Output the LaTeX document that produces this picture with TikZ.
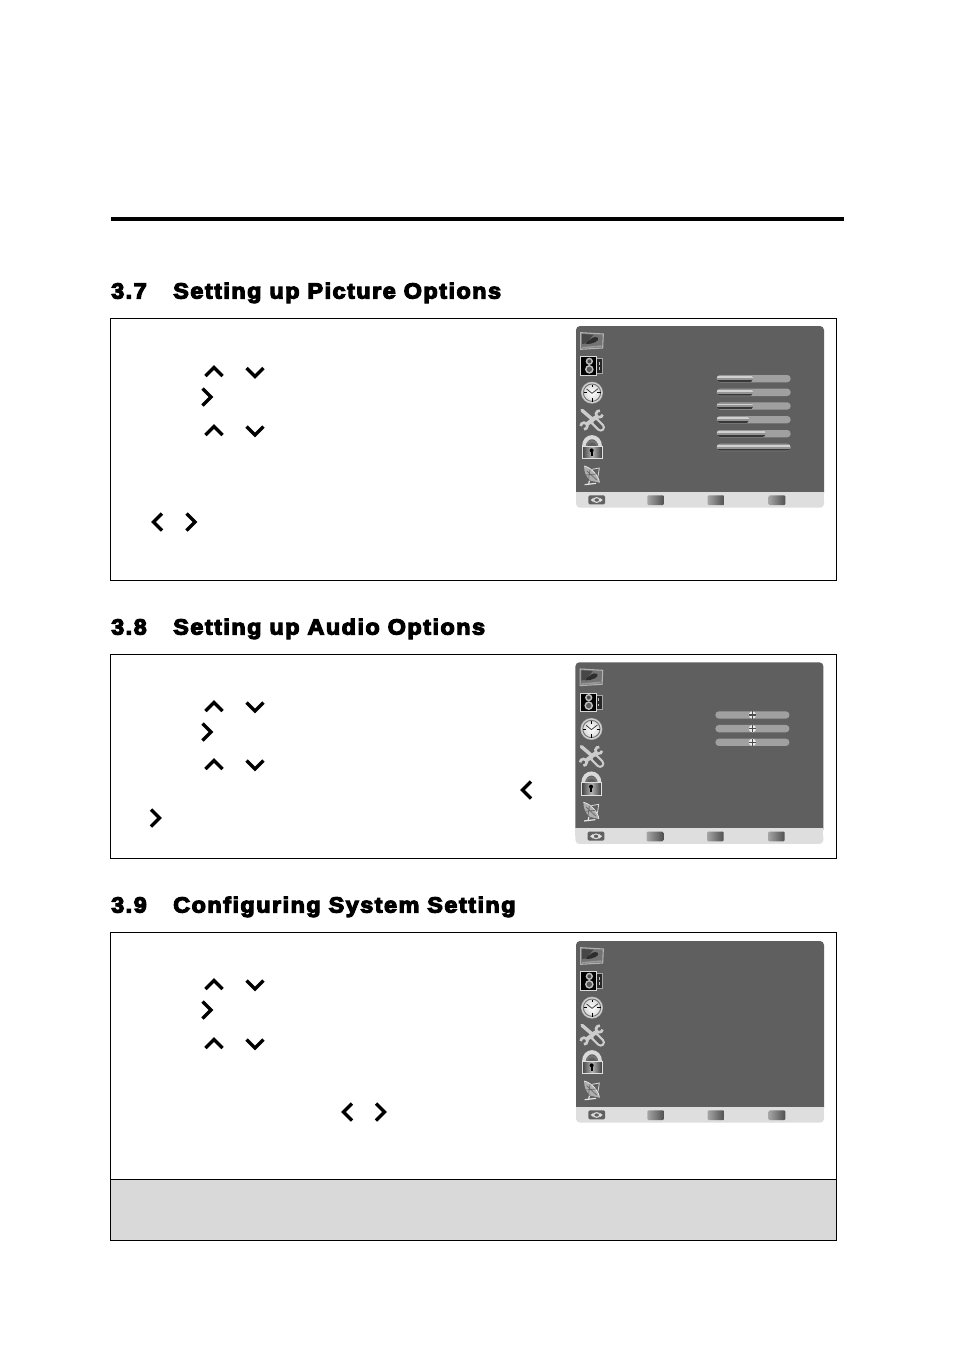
\documentclass[tikz,border=0pt]{standalone}
\usepackage{fontspec}
\setmainfont{Liberation Sans}
\newfontfamily\headfont[FakeBold=5.5,FakeStretch=1.07,LetterSpace=6.8]{Liberation Sans Bold}
\usetikzlibrary{calc}
\tikzset{
  chev/.style={line width=2.5pt,line cap=butt,line join=miter,black},
  frame/.style={draw=black,line width=1pt},
  heading/.style={anchor=base west,inner sep=0pt,font=\headfont\fontsize{16.4pt}{18pt}\selectfont},
  track/.style={fill=trackgray,draw=none,rounded corners=2.6pt},
  btn/.style={left color=btnl,right color=btnr,draw=none,rounded corners=0.8pt},
}
\definecolor{panel}{HTML}{5F5F5F}
\definecolor{band}{HTML}{DEDEDE}
\definecolor{trackgray}{HTML}{A0A0A0}
\definecolor{btnl}{HTML}{A5A5A5}
\definecolor{btnr}{HTML}{505050}
\definecolor{note}{HTML}{D9D9D9}
\newcommand{\chU}[2]{\draw[chev] (#1-8.5,#2+5) -- (#1,#2-3.5) -- (#1+8.5,#2+5);}
\newcommand{\chD}[2]{\draw[chev] (#1-8.5,#2-5) -- (#1,#2+3.5) -- (#1+8.5,#2-5);}
\newcommand{\chR}[2]{\draw[chev] (#1-5,#2-8.5) -- (#1+3.5,#2) -- (#1-5,#2+8.5);}
\newcommand{\chL}[2]{\draw[chev] (#1+5,#2-8.5) -- (#1-3.5,#2) -- (#1+5,#2+8.5);}
\newcommand{\osdpanel}{%
  \fill[panel,rounded corners=3pt] (18,18) rectangle (762,530);
  \fill[band,rounded corners=3pt] (18,530) -- (18,563) -- (762,563) -- (762,530) -- cycle;
  \fill[band] (18,516) rectangle (762,540);
  % picture icon
  \fill[black!55] (32,38) -- (100,42) -- (98,84) -- (32,88) -- cycle;
  \fill[black!72] (36,42) -- (70,44) -- (50,70) -- (36,72) -- cycle;
  \draw[black!30,line width=0.8pt] (32,38) -- (100,42) -- (98,84) -- (32,88) -- cycle;
  \fill[black!82] (48,72) .. controls (48,64) and (58,62) .. (62,58) .. controls (68,50) and (80,50) .. (84,54) .. controls (88,62) and (72,72) .. (48,72) -- cycle;
  \fill[black!40] (36,81) -- (94,76) -- (94,81) -- (36,85) -- cycle;
  % speaker icon
  \fill[black!85] (80,116) rectangle (98,160);
  \draw[black!35,line width=0.5pt] (80,116) -- (98,116) -- (98,160) -- (80,160);
  \fill[black] (32,110) rectangle (80,166);
  \draw[black!15,line width=0.7pt] (32,110) rectangle (80,166);
  \fill[black!25] (58,124) circle (11);
  \fill[black!70] (58,124) circle (6);
  \fill[black!25] (58,148) circle (13);
  \fill[black!65] (58,148) circle (8);
  \fill[black!25] (87,126) rectangle (90,134);
  \fill[black!25] (87,142) rectangle (90,150);
  % clock icon
  \fill[black!30] (66,218) circle (33);
  \shade[inner color=white,outer color=black!18] (66,218) circle (31);
  \draw[black!55,line width=0.7pt] (66,218) circle (26);
  \draw[black,line width=0.7pt] (66,194) -- (66,202) (66,234) -- (66,246) (42,218) -- (50,218) (82,218) -- (92,218);
  \draw[black!75,line width=0.6pt] (50,207) -- (66,220) -- (84,206);
  % tools icon
  \draw[black!20,line width=2.6pt,line cap=round] (36,271) -- (72,302);
  \draw[black!20,line width=6.5pt,line cap=round] (72,302) -- (92,322);
  \draw[black!65,line width=3pt,line cap=round] (76,306) -- (92,322);
  \draw[black!20,line width=3pt] (80,290) -- (50,313);
  \draw[black!20,line width=2pt] (88,282)+(10:10) arc (10:280:10);
  \draw[black!20,line width=2pt] (42,318)+(180:10) arc (180:450:10);
  % lock icon
  \draw[black!15,line width=3pt] (42,380) .. controls (42,342) and (90,342) .. (90,380);
  \draw[black!55,line width=1.5pt] (50,380) .. controls (50,358) and (82,358) .. (82,380);
  \shade[left color=black!75,right color=black!75,middle color=black!30] (36,378) rectangle (96,416);
  \draw[black!12,line width=0.7pt] (36,378) rectangle (96,416);
  \fill[black] (65,391) circle (6);
  \fill[black] (62,391) rectangle (68,408);
  % dish icon
  \fill[black!32] (42,438) .. controls (64,442) and (88,470) .. (88,488) -- (62,482) .. controls (48,472) and (42,455) .. (42,438) -- cycle;
  \draw[black!10,line width=0.6pt] (42,438) .. controls (64,442) and (88,470) .. (88,488);
  \draw[black!10,line width=0.9pt] (44,494) -- (78,490);
  \draw[black!10,line width=0.9pt] (58,482) -- (56,494);
  \draw[black!60,line width=0.5pt] (50,452) -- (80,480) (60,448) -- (56,476) (48,465) -- (78,462);
  \draw[black!15,line width=0.6pt] (66,448) -- (88,444) -- (84,470);
  % footer buttons
  \fill[black!62,rounded corners=1pt] (55,526) rectangle (105,553);
  \fill[black!12] (62,540) -- (71,533) -- (71,547) -- cycle;
  \fill[black!12] (98,540) -- (89,533) -- (89,547) -- cycle;
  \draw[black!12,line width=0.8pt] (80,540) ellipse (9 and 7);
  \shade[btn] (232,526) rectangle (282,555);
  \shade[btn] (413,526) rectangle (463,555);
  \shade[btn] (596,526) rectangle (646,555);
}
\newcommand{\fillbar}[2]{%
  \fill[track] (440,#1-11) rectangle (662,#1+11);
  \begin{scope}
    \clip[rounded corners=2.4pt] (440,#1-10) rectangle (#2,#1+10);
    \fill[black!42] (440,#1-10) rectangle (#2,#1-7);
    \fill[black!18] (440,#1-7) rectangle (#2,#1-2);
    \fill[black!42] (440,#1-2) rectangle (#2,#1+4);
    \fill[black!78] (440,#1+4) rectangle (#2,#1+10);
  \end{scope}
}
\newcommand{\knobbar}[1]{%
  \fill[track] (438,#1-11) rectangle (660,#1+11);
  \fill[black!8] (549,#1) circle (11);
  \fill[black!70] (538,#1-1.8) rectangle (560,#1+1.8);
  \fill[black!70] (547.5,#1-11) rectangle (550.5,#1+11);
}
\begin{document}
\begin{tikzpicture}[x=0.75pt,y=-0.75pt]
\useasboundingbox (0,0) rectangle (954,1367);
\fill[white] (0,0) rectangle (954,1367);
\fill[black] (111,217) rectangle (844,221);

\node[heading] (h1a) at (111,298.5) {3.7};
\node[heading] (h1b) at (173,298.5) {Setting up Picture Options};
\node[heading] (h2a) at (111,634.5) {3.8};
\node[heading] (h2b) at (173,634.5) {Setting up Audio Options};
\node[heading] (h3a) at (111,912.5) {3.9};
\node[heading] (h3b) at (173,912.5) {Configuring System Setting};

\draw[frame] (110.5,318.5) rectangle (836.5,580.5);
\draw[frame] (110.5,654.5) rectangle (836.5,858.5);
\fill[note] (110.5,1179.5) rectangle (836.5,1240.5);
\draw[frame] (110.5,932.5) rectangle (836.5,1240.5);
\draw[frame] (110.5,1179.5) -- (836.5,1179.5);

\chU{214}{371}\chD{255}{373}\chR{207.5}{397}\chU{214}{430}\chD{255}{431.5}\chL{157}{522}\chR{191.5}{522}
\chU{214}{706}\chD{255}{707.5}\chR{207.5}{732}\chU{214}{764}\chD{255}{765.5}\chL{526}{790}\chR{156}{818}
\chU{214}{984}\chD{255}{985.5}\chR{207.5}{1010}\chU{214}{1043}\chD{255}{1044.5}\chL{347}{1112}\chR{381}{1112}

\begin{scope}[shift={(570,320)},x=0.25pt,y=-0.25pt]
  \osdpanel
  \fillbar{176}{550}\fillbar{217}{550}\fillbar{258}{550}\fillbar{299}{538}\fillbar{341}{587}\fillbar{382}{662}
\end{scope}
\begin{scope}[shift={(569.4,656.3)},x=0.25pt,y=-0.25pt]
  \osdpanel
  \knobbar{176}\knobbar{217}\knobbar{258}
\end{scope}
\begin{scope}[shift={(570,935)},x=0.25pt,y=-0.25pt]
  \osdpanel
\end{scope}
\end{tikzpicture}
\end{document}
